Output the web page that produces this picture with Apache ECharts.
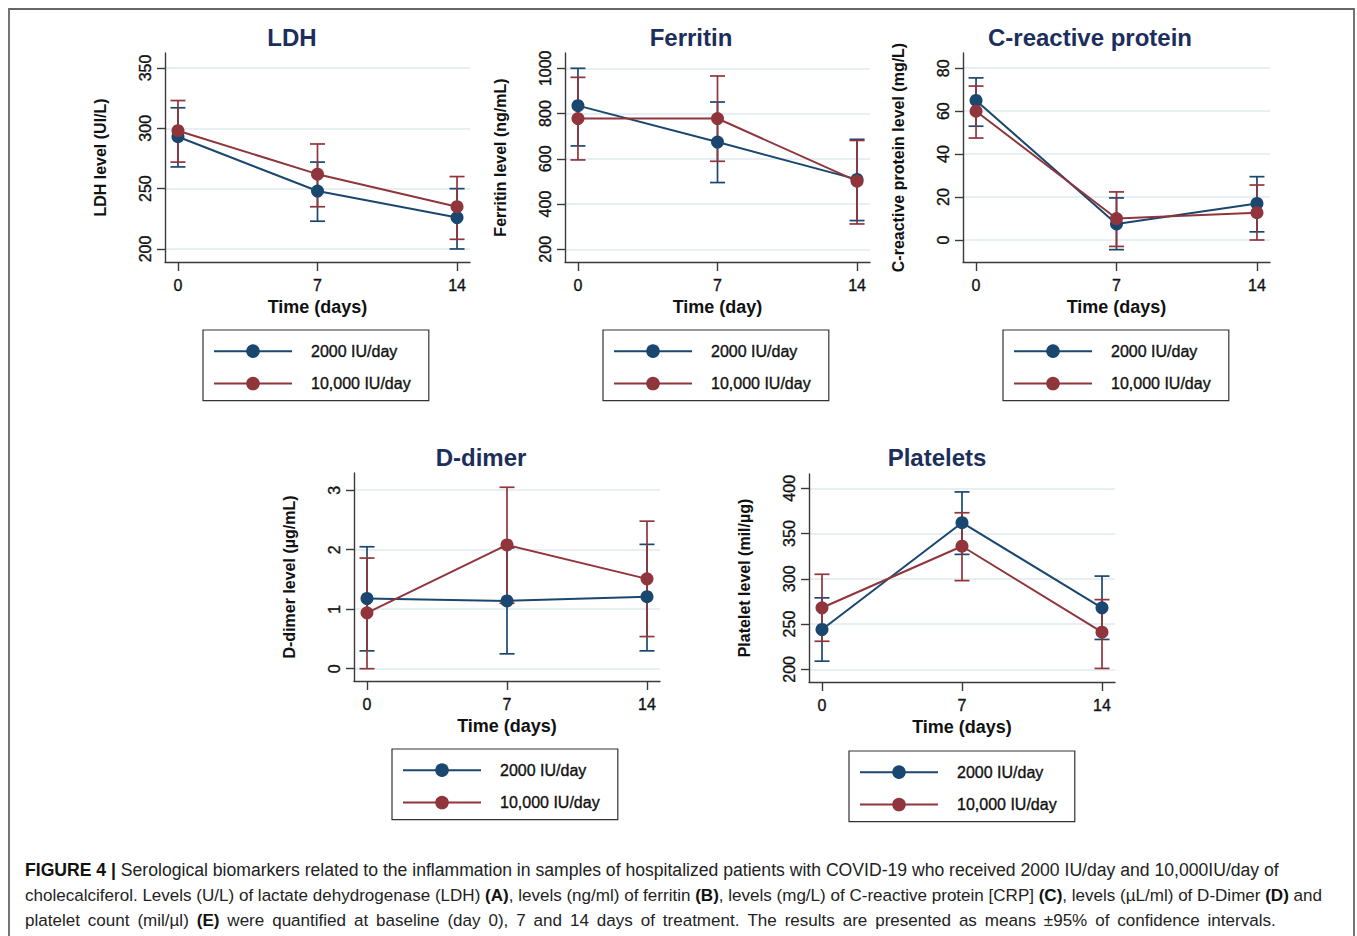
<!DOCTYPE html>
<html><head><meta charset="utf-8">
<script src="https://cdn.jsdelivr.net/npm/echarts@6/dist/echarts.min.js"></script>
<style>html,body{margin:0;padding:0;background:#fff}#c{width:1357px;height:936px}</style>
</head><body><div id="c"></div>
<script>
// ---------- DATA ----------
const days = [0, 7, 14];
const xTicks = [0, 7, 14];
const seriesNames = ['2000 IU/day', '10,000 IU/day'];

// LDH (UI/L)
const ldh2000 = [293, 248, 226];
const ldh2000Lo = [268, 223, 200];
const ldh2000Hi = [317, 272, 250];
const ldh10000 = [298, 262, 235];
const ldh10000Lo = [272, 235, 208];
const ldh10000Hi = [323, 287, 260];
const ldhTicks = [200, 250, 300, 350];

// Ferritin (ng/mL)
const fer2000 = [835, 674, 509];
const fer2000Lo = [657, 495, 327];
const fer2000Hi = [1000, 851, 686];
const fer10000 = [778, 778, 501];
const fer10000Lo = [595, 589, 312];
const fer10000Hi = [960, 966, 681];
const ferTicks = [200, 400, 600, 800, 1000];

// C-reactive protein (mg/L)
const crp2000 = [65, 7.5, 17];
const crp2000Lo = [53, -4.5, 3.8];
const crp2000Hi = [75.5, 19.6, 29.5];
const crp10000 = [60, 10, 12.7];
const crp10000Lo = [47.5, -3, 0];
const crp10000Hi = [71.7, 22.4, 25.6];
const crpTicks = [0, 20, 40, 60, 80];

// D-dimer (µg/mL)
const dd2000 = [1.18, 1.14, 1.21];
const dd2000Lo = [0.30, 0.25, 0.30];
const dd2000Hi = [2.05, 2.03, 2.09];
const dd10000 = [0.94, 2.08, 1.51];
const dd10000Lo = [0.0, 1.1, 0.54];
const dd10000Hi = [1.86, 3.05, 2.48];
const ddTicks = [0, 1, 2, 3];

// Platelets (mil/µg)
const plt2000 = [244, 362, 268];
const plt2000Lo = [209, 327, 233];
const plt2000Hi = [279, 396, 303];
const plt10000 = [268, 336, 241];
const plt10000Lo = [231, 298, 201];
const plt10000Hi = [305, 373, 277];
const pltTicks = [200, 250, 300, 350, 400];

const captionLines = [
  '{b|FIGURE 4 |} Serological biomarkers related to the inflammation in samples of hospitalized patients with COVID-19 who received 2000 IU/day and 10,000IU/day of',
  'cholecalciferol. Levels (U/L) of lactate dehydrogenase (LDH) {b|(A)}, levels (ng/ml) of ferritin {b|(B)}, levels (mg/L) of C-reactive protein [CRP] {b|(C)}, levels (µL/ml) of D-Dimer {b|(D)} and',
  'platelet count (mil/µl) {b|(E)} were quantified at baseline (day 0), 7 and 14 days of treatment. The results are presented as means ±95% of confidence intervals.'
];

// ---------- LAYOUT / STYLE ----------
const FONT = "'Liberation Sans', Arial, Helvetica, sans-serif";
const CAPFONT = "'Liberation Sans', Arial, sans-serif";
const COLORS = ['#1a476f', '#90353b'];
const TITLE_COLOR = '#1c2e5c';
const AXIS_COLOR = '#3a3a3a';
const GRID_COLOR = '#e1eaee';
const TXT = '#111';

const panels = [
  { title: 'LDH', yName: 'LDH level (UI/L)', xName: 'Time (days)', ticks: ldhTicks, ymin: 189.2, ymax: 362.4,
    grid: { left: 165, top: 53, width: 305, height: 209 }, tx: 292, ty: 37, lg: { left: 203, top: 330 },
    s: [[ldh2000, ldh2000Lo, ldh2000Hi], [ldh10000, ldh10000Lo, ldh10000Hi]] },
  { title: 'Ferritin', yName: 'Ferritin level (ng/mL)', xName: 'Time (day)', ticks: ferTicks, ymin: 143.9, ymax: 1067.6,
    grid: { left: 565, top: 53, width: 305, height: 209 }, tx: 691, ty: 37, lg: { left: 603, top: 330 },
    s: [[fer2000, fer2000Lo, fer2000Hi], [fer10000, fer10000Lo, fer10000Hi]] },
  { title: 'C-reactive protein', yName: 'C-reactive protein level (mg/L)', xName: 'Time (days)', ticks: crpTicks, ymin: -10.25, ymax: 87.1,
    grid: { left: 963, top: 53, width: 307, height: 209 }, tx: 1090, ty: 37, lg: { left: 1003, top: 330 },
    s: [[crp2000, crp2000Lo, crp2000Hi], [crp10000, crp10000Lo, crp10000Hi]] },
  { title: 'D-dimer', yName: 'D-dimer level (µg/mL)', xName: 'Time (days)', ticks: ddTicks, ymin: -0.207, ymax: 3.29,
    grid: { left: 354, top: 473, width: 306, height: 208 }, tx: 481, ty: 457, lg: { left: 392, top: 749 },
    s: [[dd2000, dd2000Lo, dd2000Hi], [dd10000, dd10000Lo, dd10000Hi]] },
  { title: 'Platelets', yName: 'Platelet level (mil/µg)', xName: 'Time (days)', ticks: pltTicks, ymin: 186, ymax: 415.8,
    grid: { left: 809, top: 474, width: 306, height: 208 }, tx: 937, ty: 457, lg: { left: 849, top: 751 },
    s: [[plt2000, plt2000Lo, plt2000Hi], [plt10000, plt10000Lo, plt10000Hi]] }
];

function errRender(params, api) {
  const x = api.value(0), lo = api.value(1), hi = api.value(2);
  const a = api.coord([x, lo]), b = api.coord([x, hi]);
  const cap = 7.5;
  const st = { stroke: api.visual('color'), lineWidth: 1.7 };
  return { type: 'group', children: [
    { type: 'line', shape: { x1: a[0], y1: a[1], x2: b[0], y2: b[1] }, style: st },
    { type: 'line', shape: { x1: a[0] - cap, y1: a[1], x2: a[0] + cap, y2: a[1] }, style: st },
    { type: 'line', shape: { x1: b[0] - cap, y1: b[1], x2: b[0] + cap, y2: b[1] }, style: st }
  ] };
}

const medium = { textBorderColor: TXT, textBorderWidth: 0.35 };

const grid = [], xAxis = [], yAxis = [], series = [], legend = [], graphic = [];
panels.forEach((p, i) => {
  grid.push(Object.assign({ containLabel: false }, p.grid));
  xAxis.push({
    gridIndex: i, type: 'value', min: -0.65, max: 14.65,
    name: p.xName, nameLocation: 'middle', nameGap: 36,
    nameTextStyle: { fontSize: 18, fontWeight: 'bold', color: TXT, fontFamily: FONT },
    axisLine: { show: true, onZero: false, lineStyle: { color: AXIS_COLOR, width: 1.4 } },
    axisTick: { show: true, length: 9, customValues: xTicks, lineStyle: { color: AXIS_COLOR, width: 1.4 } },
    axisLabel: Object.assign({ customValues: xTicks, fontSize: 16, color: TXT, margin: 15, fontFamily: FONT,
      formatter: v => String(v) }, medium),
    splitLine: { show: false }
  });
  yAxis.push({
    gridIndex: i, type: 'value', min: p.ymin, max: p.ymax,
    name: p.yName, nameLocation: 'middle', nameGap: 57,
    nameTextStyle: { fontSize: 16, fontWeight: 'bold', color: TXT, fontFamily: FONT },
    axisLine: { show: true, onZero: false, lineStyle: { color: AXIS_COLOR, width: 1.4 } },
    axisTick: { show: true, length: 8, customValues: p.ticks, lineStyle: { color: AXIS_COLOR, width: 1.4 } },
    axisLabel: Object.assign({ customValues: p.ticks, rotate: 90, fontSize: 16, color: TXT, margin: 12, fontFamily: FONT,
      formatter: v => String(v) }, medium),
    splitLine: { show: true, lineStyle: { color: GRID_COLOR, width: 1.5 } }
  });
  p.s.forEach((arr, k) => {
    series.push({
      type: 'custom', name: seriesNames[k] + ' CI', xAxisIndex: i, yAxisIndex: i,
      data: days.map((d, j) => [d, arr[1][j], arr[2][j]]),
      encode: { x: 0, y: [1, 2] }, renderItem: errRender,
      itemStyle: { color: COLORS[k] }, z: 2 + k, silent: true
    });
  });
  p.s.forEach((arr, k) => {
    series.push({
      type: 'line', name: seriesNames[k], xAxisIndex: i, yAxisIndex: i,
      data: days.map((d, j) => [d, arr[0][j]]),
      symbol: 'circle', symbolSize: 13, showSymbol: true,
      lineStyle: { width: 2, color: COLORS[k] }, itemStyle: { color: COLORS[k] },
      z: 5 + k, silent: true
    });
  });
  legend.push({
    left: p.lg.left, top: p.lg.top, orient: 'vertical', data: seriesNames,
    itemWidth: 78, itemHeight: 17, itemGap: 16, padding: [13, 18, 9, 10],
    borderColor: '#333', borderWidth: 1.2, selectedMode: false,
    textStyle: Object.assign({ fontSize: 16, color: TXT, fontFamily: FONT, padding: [0, 0, 0, 14] }, medium)
  });
  graphic.push({
    type: 'text', x: p.tx, y: p.ty,
    style: { text: p.title, fill: TITLE_COLOR, fontSize: 24, fontWeight: 'bold', fontFamily: FONT,
      textAlign: 'center', textVerticalAlign: 'middle' }
  });
});

graphic.push({
  type: 'rect', shape: { x: 9, y: 9, width: 1345, height: 940 },
  style: { fill: 'none', stroke: '#666', lineWidth: 1.8 }, silent: true
});
const capSizes = [17.6, 17.05, 17.05];
const spaceScale = [1, 1, 1.67];
captionLines.forEach((t, i) => {
  const fs = capSizes[i];
  let text = t;
  if (spaceScale[i] !== 1) text = t.replace(/ (?![^{]*\})/g, '{s| }');
  graphic.push({
    type: 'text', x: 25, y: 870 + i * 25,
    style: { text: text, fill: '#222', fontSize: fs, fontFamily: CAPFONT, textVerticalAlign: 'middle',
      rich: {
        b: { fontWeight: 'bold', fontSize: fs, fontFamily: CAPFONT, fill: '#111' },
        s: { fontSize: fs * spaceScale[i], fontFamily: CAPFONT, lineHeight: 18 }
      } }
  });
});

const chart = echarts.init(document.getElementById('c'), null, { renderer: 'svg', width: 1357, height: 936 });
chart.setOption({
  animation: false, backgroundColor: '#fff',
  grid, xAxis, yAxis, series, legend, graphic
});
</script>
</body></html>
